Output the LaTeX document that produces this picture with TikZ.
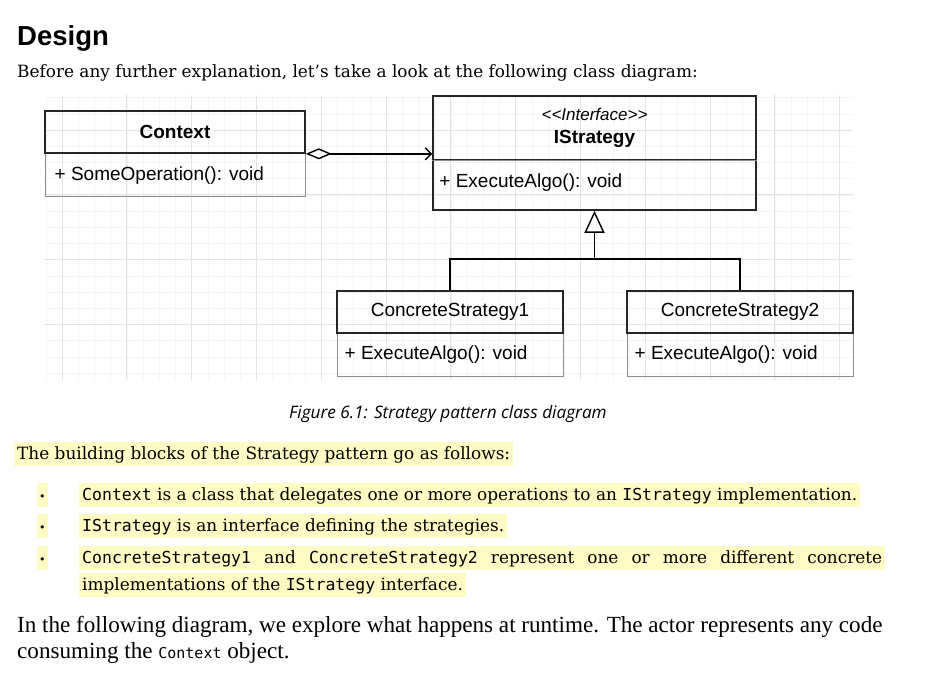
\documentclass[tikz,border=0pt]{standalone}
\usepackage{fontspec}
\setmainfont{DejaVu Serif}
\newfontfamily\umlfont{Liberation Sans}
\newfontfamily\codefont{DejaVu Sans Mono}
\newfontfamily\capfont{Open Sans}
\newfontfamily\narrowfont{Liberation Serif}
\usetikzlibrary{arrows.meta,positioning}

\definecolor{hl}{HTML}{FFFBC4}
\definecolor{gridminor}{HTML}{F4F4F4}
\definecolor{gridmajor}{HTML}{E4E4E4}
\definecolor{boxgray}{HTML}{8C8C8C}

\newcommand{\inlinecode}[1]{{\codefont\fontsize{16.5}{20}\selectfont #1}}
\newcommand{\umlsize}{\umlfont\fontsize{19}{22}\selectfont}
\newcommand{\bodysize}{\fontsize{16.9}{22}\selectfont}

\begin{document}
\begin{tikzpicture}[x=1pt,y=-1pt,
    head/.style={draw=black!85,line width=1.6pt,minimum width=#1,minimum height=42pt,inner sep=0pt,font=\umlsize},
    body/.style={draw=boxgray,line width=1pt,minimum width=#1,minimum height=43pt,inner sep=0pt},
    member/.style={anchor=west,inner sep=0pt,font=\umlsize},
    para/.style={anchor=base west,inner sep=0pt,font=\narrowfont\fontsize{23.1}{26}\selectfont},
    marked/.style={anchor=base west,fill=hl,inner xsep=3pt,inner ysep=0pt,text height=17pt,text depth=7pt,font=\bodysize},
    dot/.style={anchor=base west,fill=hl,inner xsep=2pt,inner ysep=0pt,text height=17pt,text depth=7pt,font=\fontsize{11}{14}\selectfont}]

    % page and grid
    \fill[white] (0,0) rectangle (936,675);
    \begin{scope}[shift={(62,130)}]
        \draw[gridminor,line width=0.6pt,step=16.2pt] (-18,-35) grid (791,250);
        \draw[gridmajor,line width=0.8pt,step=64.8pt] (-18,-35) grid (791,250);
    \end{scope}

    % heading and intro
    \node[anchor=base west,inner sep=0pt,font=\umlfont\bfseries\fontsize{27.5}{32}\selectfont] (title) at (17,45) {Design};
    \node[anchor=base west,inner sep=0pt,font=\bodysize] (intro) at (17,77) {Before any further explanation, let’s take a look at the following class diagram:};

    % Context class
    \node[body=260pt] (ctxBody) at (175,174.5) {};
    \node[head=260pt] (ctxHead) at (175,132) {\bfseries Context};
    \node[member] (ctxOp) at ([xshift=10pt,yshift=-1pt]ctxBody.west) {+ SomeOperation(): void};

    % IStrategy interface
    \node[body=323pt,draw=black!85,line width=1.6pt,minimum height=50pt] (isBody) at (594.5,185) {};
    \node[head=323pt,minimum height=64pt,align=center] (isHead) at (594.5,128)
        {{\itshape\fontsize{17}{20}\selectfont \textless\textless Interface\textgreater\textgreater}\\[1pt]\bfseries IStrategy};
    \draw[boxgray,line width=1pt] (isHead.south west) -- (isHead.south east);
    \node[member] (isOp) at ([xshift=7pt,yshift=2pt]isBody.west) {+ ExecuteAlgo(): void};

    % concrete strategies
    \node[body=226pt] (cs1Body) at (450,354.5) {};
    \node[head=226pt] (cs1Head) at (450,312) {ConcreteStrategy1};
    \node[member] (cs1Op) at ([xshift=8pt]cs1Body.west) {+ ExecuteAlgo(): void};

    \node[body=226pt] (cs2Body) at (740,354.5) {};
    \node[head=226pt] (cs2Head) at (740,312) {ConcreteStrategy2};
    \node[member] (cs2Op) at ([xshift=8pt]cs2Body.west) {+ ExecuteAlgo(): void};

    % aggregation
    \draw[line width=1.4pt,{Diamond[open,length=26pt,width=11pt]}-{Straight Barb[length=6pt,width=12pt]}]
        (ctxHead.south east) -- (ctxHead.south east -| isHead.west);

    % realization
    \coordinate (fork) at ([yshift=-48pt]isBody.south);
    \draw[line width=1.4pt,-{Triangle[open,length=22pt,width=20pt]}] (fork) -- (isBody.south);
    \draw[line width=1.4pt] (cs1Head.north) |- (fork) -| (cs2Head.north);

    % caption
    \node[anchor=base,inner sep=0pt,font=\capfont\itshape\fontsize{17.2}{20}\selectfont] (caption) at (448,418)
        {Figure 6.1: Strategy pattern class diagram};

    % building blocks
    \node[marked] (blocks) at (14,459) {The building blocks of the Strategy pattern go as follows:};

    \node[dot] (dot1) at (37,500) {•};
    \node[marked] (item1) at (79,500) {\inlinecode{Context} is a class that delegates one or more operations to an \inlinecode{IStrategy} implementation.};
    \node[dot] (dot2) at (37,531) {•};
    \node[marked] (item2) at (79,531) {\inlinecode{IStrategy} is an interface defining the strategies.};
    \node[dot] (dot3) at (37,563) {•};
    \node[marked] (item3) at (79,563) {\makebox[800pt][s]{\inlinecode{ConcreteStrategy1} and \inlinecode{ConcreteStrategy2} represent one or more different concrete}};
    \node[marked] (item3b) at (79,590) {implementations of the \inlinecode{IStrategy} interface.};

    % runtime paragraph
    \node[para] (runtime) at (17,632) {In the following diagram, we explore what happens at runtime. The actor represents any code};
    \node[para] (runtimeB) at (17,658) {consuming the {\codefont\fontsize{15}{18}\selectfont Context} object.};
\end{tikzpicture}
\end{document}
